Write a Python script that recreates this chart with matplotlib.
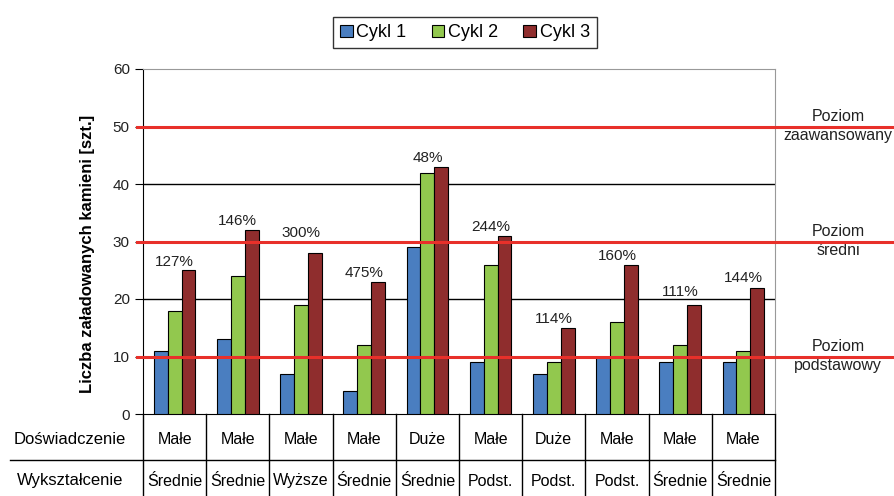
import numpy as np
import matplotlib.pyplot as plt

plt.rcParams['font.family'] = ['Liberation Sans', 'DejaVu Sans']

cykl1 = [11, 13, 7, 4, 29, 9, 7, 10, 9, 9]
cykl2 = [18, 24, 19, 12, 42, 26, 9, 16, 12, 11]
cykl3 = [25, 32, 28, 23, 43, 31, 15, 26, 19, 22]
procent = ["127%", "146%", "300%", "475%", "48%", "244%", "114%", "160%", "111%", "144%"]
doswiadczenie = ["Małe", "Małe", "Małe", "Małe", "Duże", "Małe", "Duże", "Małe", "Małe", "Małe"]
wyksztalcenie = ["Średnie", "Średnie", "Wyższe", "Średnie", "Średnie", "Podst.", "Podst.", "Podst.",
                 "Średnie", "Średnie"]
poziomy = [10, 30, 50]
poziomy_gora = ["Poziom", "Poziom", "Poziom"]
poziomy_dol = ["podstawowy", "średni", "zaawansowany"]

# odstep etykiet procentowych nad slupkami
odstep = [0.3, 0.3, 2.2, 0.3, 0.3, 0.3, 0.3, 0.3, 1.0, 0.4]

W, H = 895, 496
fig = plt.figure(figsize=(W / 100, H / 100), dpi=100)
ax = fig.add_axes([143 / W, 1 - 414 / H, 632 / W, 345 / H])

x = np.arange(len(cykl1))
w = 0.22
ax.bar(x - w, cykl1, w, color='#4A7EC0', edgecolor='black', linewidth=0.8, label='Cykl 1', zorder=3)
ax.bar(x, cykl2, w, color='#92C84E', edgecolor='black', linewidth=0.8, label='Cykl 2', zorder=3)
ax.bar(x + w, cykl3, w, color='#8F2D2D', edgecolor='black', linewidth=0.8, label='Cykl 3', zorder=3)

for i, p in enumerate(procent):
    top = max(cykl1[i], cykl2[i], cykl3[i])
    ax.text(x[i], top + odstep[i], p, ha='center', va='bottom', fontsize=11, color='#222222', zorder=4)

ax.set_xlim(-0.5, len(cykl1) - 0.5)
ax.set_ylim(0, 60)
ax.set_yticks(range(0, 61, 10))
ax.set_xticks([])
ax.tick_params(axis='y', labelsize=11, length=6, labelcolor='#222222')
for yv in [20, 40]:
    ax.axhline(yv, color='black', linewidth=1, zorder=1)
ax.spines['top'].set_color('#999999')
ax.spines['right'].set_color('#999999')

for yv, t1, t2 in zip(poziomy, poziomy_gora, poziomy_dol):
    ax.axhline(yv, xmin=-0.01, xmax=1.2, color='#E8302A', linewidth=2.2, clip_on=False, zorder=5)
    ax.annotate(t1, (1.1, yv), xycoords=ax.get_yaxis_transform(), xytext=(0, 2),
                textcoords='offset points', ha='center', va='bottom', fontsize=11.5, color='#222222')
    ax.annotate(t2, (1.1, yv), xycoords=ax.get_yaxis_transform(), xytext=(0, -1),
                textcoords='offset points', ha='center', va='top', fontsize=11.5, color='#222222')

ax.set_ylabel("Liczba załadowanych kamieni [szt.]", fontsize=12, fontweight='bold')
ax.yaxis.set_label_coords(-0.076, 0.465)

# tabela pod osia
tr = ax.get_xaxis_transform()
y_row = -46 / 345
y_bot = -82 / 345
for k in range(len(cykl1) + 1):
    ax.plot([k - 0.5, k - 0.5], [0, y_bot], transform=tr, color='black', linewidth=1, clip_on=False)
ax.plot([-133 / 63.2 - 0.5, len(cykl1) - 0.5], [y_row, y_row], transform=tr,
        color='black', linewidth=1, clip_on=False)
for i in range(len(cykl1)):
    ax.text(x[i], -26 / 345, doswiadczenie[i], transform=tr, ha='center', va='center', fontsize=11.5)
    ax.text(x[i], -67 / 345, wyksztalcenie[i], transform=tr, ha='center', va='center', fontsize=11.5)
x_lab = (70 - 143) / 63.2 - 0.5
ax.text(x_lab, -26 / 345, "Doświadczenie", transform=tr, ha='center', va='center', fontsize=12)
ax.text(x_lab, -67 / 345, "Wykształcenie", transform=tr, ha='center', va='center', fontsize=12)

fig.legend(loc='upper center', bbox_to_anchor=(465 / W, 1 - 8 / H), ncol=3, fontsize=13,
           frameon=True, fancybox=False, edgecolor='black', handlelength=0.7, handleheight=0.7,
           handletextpad=0.2, columnspacing=1.4, borderpad=0.4)

fig.savefig('out.png', dpi=100)
